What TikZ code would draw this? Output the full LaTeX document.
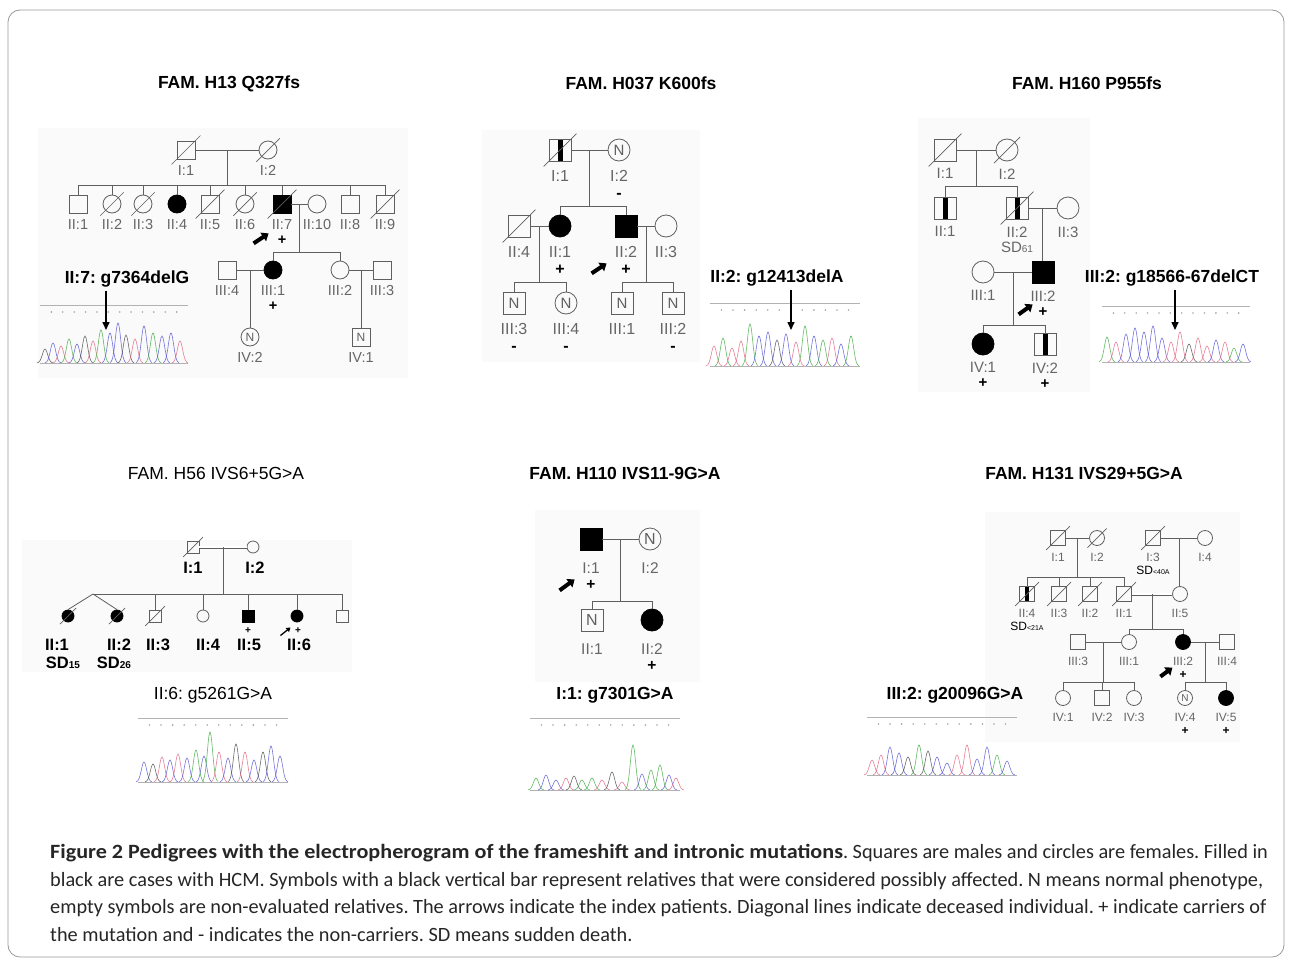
\documentclass[tikz,border=0pt]{standalone}
\usepackage{fontspec}
\setmainfont{Liberation Sans}
\newfontfamily\capfont{Carlito}[BoldFeatures={FakeStretch=1.09}]
\usepackage{xcolor}
\usepackage{tikz}
\usetikzlibrary{positioning,arrows.meta,calc}
\frenchspacing
\definecolor{pedline}{RGB}{95,95,95}
\definecolor{trgreen}{RGB}{60,170,60}
\definecolor{trblue}{RGB}{80,80,210}
\definecolor{trred}{RGB}{225,95,125}
\definecolor{trblack}{RGB}{70,70,70}
\newcommand{\symsz}{18pt}
\newcommand{\nsz}{12}
\newcommand{\lsz}{14}
\newcommand{\lsk}{15}
\newcommand{\barw}{2.5pt}
\newcommand{\carrier}{{\color{black}\bfseries +}}
\newcommand{\noncarrier}{{\color{black}\bfseries -}}
\newcommand{\deceased}[2][5]{\draw[decl] ([shift={(-#1,#1)}]#2.south west) -- ([shift={(#1,-#1)}]#2.north east);}
\newcommand{\chromhead}[3]{%
  \draw[seqline] (#1,#2) -- ++(#3,0);
  \foreach \i in {1,...,12} \fill[black!35] ({#1+\i*#3/13},{#2+7}) circle[radius=0.9pt];
}
\newcommand{\chromtrace}[4]{%
  \draw[seqline] (#1,#2) -- ++(#3,0);
  \foreach \px/\ph/\pc in {#4}
    \draw[\pc] plot[domain=-8:8, samples=17, smooth] ({#1+\px+\x}, {#2-\ph*exp(-(\x*\x)/14)});
}
\tikzset{
  ind/.style={draw=pedline, line width=0.8pt, inner sep=0pt, minimum size=\symsz,
              font=\fontsize{\nsz}{\nsz}\selectfont, text=pedline},
  male/.style={ind, rectangle},
  female/.style={ind, circle},
  aff/.style={fill=black, draw=black},
  bar/.style={path picture={\fill[black] ([xshift=-\barw]path picture bounding box.south)
              rectangle ([xshift=\barw]path picture bounding box.north);}},
  ped/.style={draw=pedline, line width=0.8pt},
  cons/.style={ped, double, double distance=1.4pt},
  decl/.style={draw=pedline, line width=0.7pt},
  lab/.style={font=\fontsize{\lsz}{\lsk}\selectfont, text=black!60, align=center, inner sep=0pt},
  hvy/.style={font=\fontsize{16.5}{16.5}\selectfont\bfseries, inner sep=0pt},
  famtitle/.style={font=\fontsize{17.5}{18}\selectfont\bfseries},
  famtitlereg/.style={font=\fontsize{17.5}{18}\selectfont},
  mutlbl/.style={font=\fontsize{17.5}{18}\selectfont\bfseries},
  mutreg/.style={font=\fontsize{17.5}{18}\selectfont},
  idx/.style={-{Triangle[length=6.5pt,width=10pt]}, line width=4pt},
  smallidx/.style={-{Triangle[length=4pt,width=5pt]}, line width=1.3pt},
  seqarrow/.style={-{Triangle[length=8pt,width=7pt]}, line width=1.5pt},
  seqline/.style={draw=black!30, line width=0.6pt},
  photobg/.style={fill=black!2, draw=none},
  gpk/.style={draw=trgreen, line width=0.6pt, opacity=0.8},
  bpk/.style={draw=trblue, line width=0.6pt, opacity=0.8},
  rpk/.style={draw=trred, line width=0.6pt, opacity=0.8},
  kpk/.style={draw=trblack, line width=0.6pt, opacity=0.8},
  capt/.style={font=\capfont\fontsize{20.3}{27.6}\selectfont, text=black!85, align=left, inner sep=0pt}
}

\begin{document}
\begin{tikzpicture}[x=1pt, y=-1pt]
\useasboundingbox (0,0) rectangle (1292,966);
\draw[black!40, line width=0.8pt, rounded corners=12pt] (8,10) rectangle (1284,957);

% FAM. H13
\renewcommand{\symsz}{18pt}\renewcommand{\nsz}{12}\renewcommand{\lsz}{14.5}\renewcommand{\lsk}{15}
\fill[photobg] (38,128) rectangle (408,378);
\node[famtitle] (p1-title) at (229,84) {FAM. H13 Q327fs};
\begin{scope}[label distance=5.5pt]
\node[male, label={[lab]below:{I:1}}] (p1-I1) at (186,150) {};
\node[female, label={[lab]below:{I:2}}] (p1-I2) at (268,150) {};
\node[male, label={[lab]below:{II:1}}] (p1-II1) at (78,204) {};
\node[female, label={[lab]below:{II:2}}] (p1-II2) at (112,204) {};
\node[female, label={[lab]below:{II:3}}] (p1-II3) at (143,204) {};
\node[female, aff, label={[lab]below:{II:4}}] (p1-II4) at (177,204) {};
\node[male, label={[lab]below:{II:5}}] (p1-II5) at (210,204) {};
\node[female, label={[lab]below:{II:6}}] (p1-II6) at (245,204) {};
\node[male, aff, label={[lab]below:{II:7\\\carrier}}] (p1-II7) at (282,204) {};
\node[female, label={[lab]below:{II:10}}] (p1-II10) at (317,204) {};
\node[male, label={[lab]below:{II:8}}] (p1-II8) at (350,204) {};
\node[male, label={[lab]below:{II:9}}] (p1-II9) at (385,204) {};
\node[male, label={[lab]below:{III:4}}] (p1-III4) at (227,270) {};
\node[female, aff, label={[lab]below:{III:1\\\carrier}}] (p1-III1) at (273,270) {};
\node[female, label={[lab]below:{III:2}}] (p1-III2) at (340,270) {};
\node[male, label={[lab]below:{III:3}}] (p1-III3) at (382,270) {};
\node[female, label={[lab]below:{IV:2}}] (p1-IV2) at (250,337) {N};
\node[male, label={[lab]below:{IV:1}}] (p1-IV1) at (361,337) {N};
\end{scope}
\foreach \n in {I1,I2,II2,II3,II5,II6,II7,II9} \deceased{p1-\n}
\draw[ped] (p1-I1) -- (p1-I2);
\coordinate (p1-m1) at ($(p1-I1)!0.5!(p1-I2)$);
\draw[ped] (p1-II1.north) -- ++(0,-9) coordinate (p1-s1) -| (p1-II9.north);
\foreach \n in {II2,II3,II4,II5,II6,II7,II8} \draw[ped] (p1-\n.north) -- (p1-\n.north |- p1-s1);
\draw[ped] (p1-m1) -- (p1-m1 |- p1-s1);
\draw[ped] (p1-II7) -- (p1-II10);
\coordinate (p1-m2) at ($(p1-II7)!0.5!(p1-II10)$);
\draw[ped] (p1-III1.north) -- ++(0,-8) coordinate (p1-s2) -| (p1-III2.north);
\draw[ped] (p1-m2) -- (p1-m2 |- p1-s2);
\draw[ped] (p1-III4) -- (p1-III1);
\coordinate (p1-m3) at ($(p1-III4)!0.5!(p1-III1)$);
\draw[ped] (p1-m3) -- (p1-m3 |- p1-IV2.north);
\draw[ped] (p1-III2) -- (p1-III3);
\coordinate (p1-m4) at ($(p1-III2)!0.5!(p1-III3)$);
\draw[ped] (p1-m4) -- (p1-m4 |- p1-IV1.north);
\draw[idx] ([shift={(-19,30)}]p1-II7.south west) -- ([shift={(-4,20)}]p1-II7.south west);
\node[mutlbl] (p1-mut) at (127,279) {II:7: g7364delG};
\chromhead{40}{305}{148}
\coordinate (p1-hit) at (106,330);
\draw[seqarrow] (p1-mut.south -| p1-hit) -- (p1-hit);
\chromtrace{40}{363}{148}{5/14/kpk, 13/20/bpk, 21/17/rpk, 29/24/gpk, 37/19/bpk, 45/27/kpk, 53/22/rpk, 61/33/gpk, 70/30/bpk, 78/40/bpk, 86/28/kpk, 95/24/rpk, 104/37/bpk, 113/30/gpk, 122/27/bpk, 131/30/bpk, 140/22/rpk}

% FAM. H037
\renewcommand{\symsz}{22pt}\renewcommand{\nsz}{15}\renewcommand{\lsz}{16}\renewcommand{\lsk}{17}
\fill[photobg] (482,130) rectangle (700,362);
\node[famtitle] (p2-title) at (641,83) {FAM. H037 K600fs};
\begin{scope}[label distance=9pt]
\node[male, bar, label={[lab]below:{I:1}}] (p2-I1) at (560,150) {};
\node[female, label={[lab]below:{I:2\\\noncarrier}}] (p2-I2) at (619,150) {N};
\node[male, label={[lab]below:{II:4}}] (p2-II4) at (519,226) {};
\node[female, aff, label={[lab]below:{II:1\\\carrier}}] (p2-II1) at (560,226) {};
\node[male, aff, label={[lab]below:{II:2\\\carrier}}] (p2-II2) at (626,226) {};
\node[female, label={[lab]below:{II:3}}] (p2-II3) at (666,226) {};
\node[male, label={[lab]below:{III:3\\\noncarrier}}] (p2-III3) at (514,303) {N};
\node[female, label={[lab]below:{III:4\\\noncarrier}}] (p2-III4) at (566,303) {N};
\node[male, label={[lab]below:{III:1}}] (p2-III1) at (622,303) {N};
\node[male, label={[lab]below:{III:2\\\noncarrier}}] (p2-III2) at (673,303) {N};
\end{scope}
\foreach \n in {I1,II4} \deceased{p2-\n}
\draw[ped] (p2-I1) -- (p2-I2);
\coordinate (p2-m1) at ($(p2-I1)!0.5!(p2-I2)$);
\draw[ped] (p2-II1.north) -- ++(0,-8) coordinate (p2-s1) -| (p2-II2.north);
\draw[ped] (p2-m1) -- (p2-m1 |- p2-s1);
\draw[ped] (p2-II4) -- (p2-II1);
\coordinate (p2-m2) at ($(p2-II4)!0.5!(p2-II1)$);
\draw[ped] (p2-III3.north) -- ++(0,-9) coordinate (p2-s2) -| (p2-III4.north);
\draw[ped] (p2-m2) -- (p2-m2 |- p2-s2);
\draw[ped] (p2-II2) -- (p2-II3);
\coordinate (p2-m3) at ($(p2-II2)!0.5!(p2-II3)$);
\draw[ped] (p2-III1.north) -- ++(0,-9) coordinate (p2-s3) -| (p2-III2.north);
\draw[ped] (p2-m3) -- (p2-m3 |- p2-s3);
\draw[idx] ([shift={(-23,36)}]p2-II2.south west) -- ([shift={(-8,26)}]p2-II2.south west);
\node[mutlbl] (p2-mut) at (777,278) {II:2: g12413delA};
\chromhead{710}{303}{150}
\coordinate (p2-hit) at (791,330);
\draw[seqarrow] (p2-mut.south -| p2-hit) -- (p2-hit);
\chromtrace{710}{366}{150}{4/20/rpk, 13/28/gpk, 22/18/rpk, 31/25/rpk, 40/42/gpk, 49/30/bpk, 58/34/bpk, 67/26/kpk, 76/32/bpk, 86/24/rpk, 95/40/gpk, 104/30/bpk, 113/26/gpk, 122/28/rpk, 131/22/bpk, 141/30/gpk}

% FAM. H160
\renewcommand{\symsz}{22pt}\renewcommand{\lsz}{15}\renewcommand{\lsk}{15}
\fill[photobg] (918,118) rectangle (1090,392);
\node[famtitle] (p3-title) at (1087,83) {FAM. H160 P955fs};
\begin{scope}[label distance=7pt]
\node[male, label={[lab]below:{I:1}}] (p3-I1) at (945,150) {};
\node[female, label={[lab]below:{I:2}}] (p3-I2) at (1007,150) {};
\node[male, bar, label={[lab]below:{II:1}}] (p3-II1) at (945,208) {};
\node[male, bar, label={[lab]below:{II:2\\SD{\fontsize{10}{10}\selectfont 61}}}] (p3-II2) at (1017,208) {};
\node[female, label={[lab]below:{II:3}}] (p3-II3) at (1068,208) {};
\node[female, label={[lab]below:{III:1}}] (p3-III1) at (983,272) {};
\node[male, aff, label={[lab]below:{III:2\\\carrier}}] (p3-III2) at (1043,272) {};
\node[female, aff, label={[lab]below:{IV:1\\\carrier}}] (p3-IV1) at (983,344) {};
\node[male, bar, label={[lab]below:{IV:2\\\carrier}}] (p3-IV2) at (1045,344) {};
\end{scope}
\foreach \n in {I1,I2,II2} \deceased{p3-\n}
\draw[ped] (p3-I1) -- (p3-I2);
\coordinate (p3-m1) at ($(p3-I1)!0.5!(p3-I2)$);
\draw[ped] (p3-II1.north) -- ++(0,-10) coordinate (p3-s1) -| (p3-II2.north);
\draw[ped] (p3-m1) -- (p3-m1 |- p3-s1);
\draw[ped] (p3-II2) -- (p3-II3);
\coordinate (p3-m2) at ($(p3-II2)!0.5!(p3-II3)$);
\draw[ped] (p3-m2) -- (p3-m2 |- p3-III2.north);
\draw[ped] (p3-III1) -- (p3-III2);
\coordinate (p3-m3) at ($(p3-III1)!0.5!(p3-III2)$);
\draw[ped] (p3-IV1.north) -- ++(0,-7) coordinate (p3-s2) -| (p3-IV2.north);
\draw[ped] (p3-m3) -- (p3-m3 |- p3-s2);
\draw[idx] ([shift={(-13,31)}]p3-III2.south west) -- ([shift={(1,21)}]p3-III2.south west);
\node[mutlbl] (p3-mut) at (1172,278) {III:2: g18566-67delCT};
\chromhead{1102}{306}{148}
\coordinate (p3-hit) at (1175,330);
\draw[seqarrow] (p3-mut.south -| p3-hit) -- (p3-hit);
\chromtrace{1102}{362}{148}{5/25/gpk, 14/20/rpk, 24/28/bpk, 33/34/bpk, 42/30/bpk, 51/36/bpk, 60/24/bpk, 69/20/rpk, 78/30/rpk, 87/18/kpk, 96/24/rpk, 105/16/rpk, 114/22/bpk, 123/20/rpk, 132/14/gpk, 141/18/bpk}

% FAM. H56
\renewcommand{\symsz}{12pt}
\fill[photobg] (22,540) rectangle (352,672);
\node[famtitlereg] (p4-title) at (216,473) {FAM. H56 IVS6+5G>A};
\node[male] (p4-I1) at (193,547) {};
\node[female] (p4-I2) at (253,547) {};
\node[female, aff] (p4-II1) at (68,616) {};
\node[female, aff] (p4-II2) at (117,616) {};
\node[male] (p4-II3) at (155,616) {};
\node[female] (p4-II4) at (203,616) {};
\node[male, aff] (p4-II5) at (248,616) {};
\node[female, aff] (p4-II6) at (297,616) {};
\node[male] (p4-II7) at (342,616) {};
\node[hvy] (p4-lI1) at (193,568) {I:1};
\node[hvy] (p4-lI2) at (255,568) {I:2};
\node[hvy] (p4-lII1) at (57,645) {II:1};
\node[hvy] (p4-lII2) at (119,645) {II:2};
\node[hvy] (p4-lII3) at (158,645) {II:3};
\node[hvy] (p4-lII4) at (208,645) {II:4};
\node[hvy] (p4-lII5) at (249,645) {II:5};
\node[hvy] (p4-lII6) at (299,645) {II:6};
\node[hvy] (p4-sd1) at (63,663) {SD{\fontsize{10}{10}\selectfont 15}};
\node[hvy] (p4-sd2) at (114,663) {SD{\fontsize{10}{10}\selectfont 26}};
\node[font=\fontsize{10}{10}\selectfont\bfseries, inner sep=0pt] (p4-c5) at (248,631) {+};
\node[font=\fontsize{10}{10}\selectfont\bfseries, inner sep=0pt] (p4-c6) at (298,631) {+};
\foreach \n in {I1,II1,II2,II3} \deceased[3.5]{p4-\n}
\draw[cons] (p4-I1) -- (p4-I2);
\coordinate (p4-m1) at ($(p4-I1)!0.5!(p4-I2)$);
\coordinate (p4-tw) at (93,594);
\draw[ped] (p4-tw) -- (p4-tw -| p4-II7.north) -- (p4-II7.north);
\draw[ped] (p4-II1.north) -- (p4-tw) -- (p4-II2.north);
\foreach \n in {II3,II4,II5,II6} \draw[ped] (p4-\n.north) -- (p4-\n.north |- p4-tw);
\draw[ped] (p4-m1) -- (p4-m1 |- p4-tw);
\draw[smallidx] ([shift={(-12,15)}]p4-II6.south west) -- ([shift={(-2,7)}]p4-II6.south west);
\node[mutreg] (p4-mut) at (213,695) {II:6: g5261G>A};
\chromhead{138}{718}{150}
\chromtrace{138}{782}{150}{6/20/bpk, 15/18/kpk, 24/25/rpk, 32/22/bpk, 40/28/rpk, 49/24/bpk, 58/32/gpk, 66/26/bpk, 72/50/gpk, 81/30/rpk, 90/24/bpk, 98/38/kpk, 107/30/rpk, 116/22/bpk, 125/30/kpk, 133/36/bpk, 142/26/bpk}

% FAM. H110
\renewcommand{\symsz}{22pt}\renewcommand{\nsz}{16}\renewcommand{\lsz}{15.5}\renewcommand{\lsk}{16}
\fill[photobg] (535,510) rectangle (700,682);
\node[famtitle] (p5-title) at (625,473) {FAM. H110 IVS11-9G>A};
\begin{scope}[label distance=12pt]
\node[male, aff, label={[lab]below:{I:1\\\carrier}}] (p5-I1) at (591,539) {};
\node[female, label={[lab]below:{I:2}}] (p5-I2) at (650,539) {N};
\node[male, label={[lab]below:{II:1}}] (p5-II1) at (592,620) {N};
\node[female, aff, label={[lab]below:{II:2\\\carrier}}] (p5-II2) at (652,620) {};
\end{scope}
\draw[ped] (p5-I1) -- (p5-I2);
\coordinate (p5-m1) at ($(p5-I1)!0.5!(p5-I2)$);
\draw[ped] (p5-II1.north) -- ++(0,-7) coordinate (p5-s1) -| (p5-II2.north);
\draw[ped] (p5-m1) -- (p5-m1 |- p5-s1);
\draw[idx] ([shift={(-20,40)}]p5-I1.south west) -- ([shift={(-5,29)}]p5-I1.south west);
\node[mutlbl] (p5-mut) at (615,695) {I:1: g7301G>A};
\chromhead{530}{718}{150}
\chromtrace{530}{790}{150}{6/12/gpk, 16/15/bpk, 26/10/bpk, 36/12/rpk, 44/14/kpk, 52/10/gpk, 62/12/gpk, 72/10/rpk, 82/18/kpk, 92/8/rpk, 103/45/gpk, 112/16/bpk, 121/20/gpk, 130/25/gpk, 139/15/bpk, 146/12/rpk}

% FAM. H131
\renewcommand{\symsz}{15pt}\renewcommand{\nsz}{10}\renewcommand{\lsz}{12}\renewcommand{\lsk}{13.5}\renewcommand{\barw}{2pt}
\fill[photobg] (985,512) rectangle (1240,742);
\node[famtitle] (p6-title) at (1084,473) {FAM. H131 IVS29+5G>A};
\begin{scope}[label distance=7pt]
\node[male, label={[lab]below:{I:1}}] (p6-I1) at (1058,538) {};
\node[female, label={[lab]below:{I:2}}] (p6-I2) at (1097,538) {};
\node[male, label={[lab]below:{I:3\\{\color{black}SD{\fontsize{7}{7}\selectfont <40A}}}}] (p6-I3) at (1153,538) {};
\node[female, label={[lab]below:{I:4}}] (p6-I4) at (1205,538) {};
\node[male, bar, label={[lab]below:{II:4\\{\color{black}SD{\fontsize{7}{7}\selectfont <21A}}}}] (p6-II4) at (1027,594) {};
\node[male, label={[lab]below:{II:3}}] (p6-II3) at (1059,594) {};
\node[male, label={[lab]below:{II:2}}] (p6-II2) at (1090,594) {};
\node[male, label={[lab]below:{II:1}}] (p6-II1) at (1124,594) {};
\node[female, label={[lab]below:{II:5}}] (p6-II5) at (1180,594) {};
\node[male, label={[lab]below:{III:3}}] (p6-III3) at (1078,642) {};
\node[female, label={[lab]below:{III:1}}] (p6-III1) at (1129,642) {};
\node[female, aff, label={[lab]below:{III:2\\\carrier}}] (p6-III2) at (1183,642) {};
\node[male, label={[lab]below:{III:4}}] (p6-III4) at (1227,642) {};
\node[female, label={[lab]below:{IV:1}}] (p6-IV1) at (1063,698) {};
\node[male, label={[lab]below:{IV:2}}] (p6-IV2) at (1102,698) {};
\node[female, label={[lab]below:{IV:3}}] (p6-IV3) at (1134,698) {};
\node[female, label={[lab]below:{IV:4\\\carrier}}] (p6-IV4) at (1185,698) {N};
\node[female, aff, label={[lab]below:{IV:5\\\carrier}}] (p6-IV5) at (1226,698) {};
\end{scope}
\foreach \n in {I1,I2,I3,II4,II3,II2,II1} \deceased[4]{p6-\n}
\draw[ped] (p6-I1) -- (p6-I2);
\coordinate (p6-m1) at ($(p6-I1)!0.5!(p6-I2)$);
\draw[ped] (p6-II4.north) -- ++(0,-8.5) coordinate (p6-s1) -| (p6-II1.north);
\foreach \n in {II3,II2} \draw[ped] (p6-\n.north) -- (p6-\n.north |- p6-s1);
\draw[ped] (p6-m1) -- (p6-m1 |- p6-s1);
\draw[ped] (p6-I3) -- (p6-I4);
\coordinate (p6-m2) at ($(p6-I3)!0.5!(p6-I4)$);
\draw[ped] (p6-m2) -- (p6-m2 |- p6-II5.north);
\draw[cons] (p6-II1) -- (p6-II5);
\coordinate (p6-m3) at ($(p6-II1)!0.5!(p6-II5)$);
\draw[ped] (p6-III1.north) -- ++(0,-4.5) coordinate (p6-s2) -| (p6-III2.north);
\draw[ped] (p6-m3) -- (p6-m3 |- p6-s2);
\draw[ped] (p6-III3) -- (p6-III1);
\coordinate (p6-m4) at ($(p6-III3)!0.5!(p6-III1)$);
\draw[ped] (p6-IV1.north) -- ++(0,-7.5) coordinate (p6-s3) -| (p6-IV3.north);
\draw[ped] (p6-IV2.north) -- (p6-IV2.north |- p6-s3);
\draw[ped] (p6-m4) -- (p6-m4 |- p6-s3);
\draw[ped] (p6-III2) -- (p6-III4);
\coordinate (p6-m5) at ($(p6-III2)!0.5!(p6-III4)$);
\draw[ped] (p6-IV4.north) -- ++(0,-7.5) coordinate (p6-s4) -| (p6-IV5.north);
\draw[ped] (p6-m5) -- (p6-m5 |- p6-s4);
\draw[idx] ([shift={(-17,29)}]p6-III2.south west) -- ([shift={(-5,20)}]p6-III2.south west);
\node[mutlbl] (p6-mut) at (955,695) {III:2: g20096G>A};
\chromhead{867}{717}{150}
\chromtrace{867}{775}{150}{5/15/rpk, 14/20/rpk, 23/28/bpk, 32/22/bpk, 41/18/kpk, 52/30/gpk, 61/24/kpk, 70/18/bpk, 80/12/bpk, 90/20/rpk, 100/30/rpk, 110/16/bpk, 120/28/bpk, 130/20/gpk, 140/14/bpk}

\node[capt, anchor=north west] (caption) at (50,844) {\textbf{Figure 2 Pedigrees with the electropherogram of the frameshift and intronic mutations}. Squares are males and circles are females. Filled in\\
black are cases with HCM. Symbols with a black vertical bar represent relatives that were considered possibly affected. N means normal phenotype,\\
empty symbols are non-evaluated relatives. The arrows indicate the index patients. Diagonal lines indicate deceased individual. + indicate carriers of\\
the mutation and - indicates the non-carriers. SD means sudden death.};
\end{tikzpicture}
\end{document}
